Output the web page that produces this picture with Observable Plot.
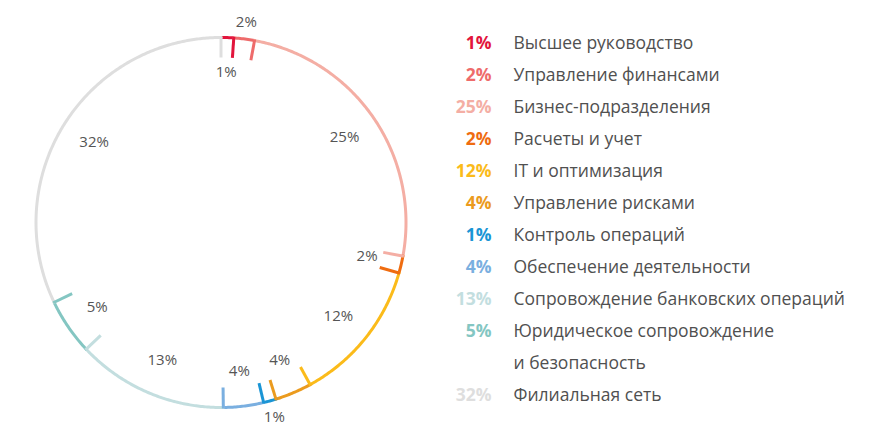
<!DOCTYPE html>
<html>
<head>
<meta charset="utf-8">
<script src="https://cdn.jsdelivr.net/npm/d3@7"></script>
<script src="https://cdn.jsdelivr.net/npm/@observablehq/plot@0.6"></script>
<style>
  html, body { margin: 0; padding: 0; background: #ffffff; }
  #chart { width: 874px; height: 427px; }
</style>
</head>
<body>
<div id="chart"></div>
<script>
// ---- Data ----
const categories = [
  "Высшее руководство",
  "Управление финансами",
  "Бизнес-подразделения",
  "Расчеты и учет",
  "IT и оптимизация",
  "Управление рисками",
  "Контроль операций",
  "Обеспечение деятельности",
  "Сопровождение банковских операций",
  "Юридическое сопровождение\nи безопасность",
  "Филиальная сеть"
];
// rounded percentages as printed
const percentLabels = [1, 2, 25, 2, 12, 4, 1, 4, 13, 5, 32];
// arc shares as measured from the ring (sum = 100)
const shares = [1.1, 1.8, 25.0, 1.5, 12.6, 3.2, 1.1, 3.5, 13.2, 4.9, 32.1];
const colors = [
  "#e2153c", "#ee6b6b", "#f4aea4", "#ef6c10", "#fbbb1a", "#eb9b1e",
  "#1a95d5", "#7aafe0", "#c3dedf", "#84c6c2", "#dedede"
];
// labels drawn outside the ring
const outsideLabels = ["Управление финансами", "Контроль операций"];

// ---- Layout ----
const W = 874, H = 427;
const cx = 220.5, cy = 222, R = 185, tickLen = 20;
const rIn = 150, rOut = 202;
const legendPctX = 491, legendTextX = 513, legendY0 = 43, legendStep = 32;

const total = d3.sum(shares);
const cum = [0];
shares.forEach((s, i) => cum.push(cum[i] + s));
const ang = f => (f / total) * 2 * Math.PI;
const pt = (a, r) => ({x: cx + r * Math.sin(a), y: cy - r * Math.cos(a)});

const arcPts = [];
const ticks = [];
const ringLabels = [];
categories.forEach((cat, i) => {
  const a0 = ang(cum[i]), a1 = ang(cum[i + 1]);
  const n = Math.max(2, Math.ceil((a1 - a0) / (Math.PI / 360)));
  for (let k = 0; k <= n; k++) {
    const p = pt(a0 + (a1 - a0) * k / n, R);
    arcPts.push({cat, x: p.x, y: p.y});
  }
  const o = pt(a1, R + 1), inn = pt(a1, R - tickLen);
  ticks.push({cat, x1: o.x, y1: o.y, x2: inn.x, y2: inn.y});
  const am = (a0 + a1) / 2;
  const lp = pt(am, outsideLabels.includes(cat) ? rOut : rIn);
  ringLabels.push({x: lp.x, y: lp.y, text: percentLabels[i] + "%"});
});

const legendPct = [];
const legendText = [];
let row = 0;
categories.forEach((cat, i) => {
  const lines = cat.split("\n");
  legendPct.push({cat, x: legendPctX, y: legendY0 + row * legendStep, text: percentLabels[i] + "%"});
  lines.forEach(line => {
    legendText.push({x: legendTextX, y: legendY0 + row * legendStep, text: line});
    row++;
  });
});

const chart = Plot.plot({
  width: W,
  height: H,
  margin: 0,
  x: {domain: [0, W], range: [0, W], axis: null},
  y: {domain: [0, H], range: [0, H], axis: null},
  color: {domain: categories, range: colors},
  style: {fontFamily: "'Open Sans', sans-serif", background: "#ffffff"},
  marks: [
    Plot.line(arcPts, {x: "x", y: "y", z: "cat", stroke: "cat", strokeWidth: 3, curve: "linear"}),
    Plot.link(ticks, {x1: "x1", y1: "y1", x2: "x2", y2: "y2", stroke: "cat", strokeWidth: 3}),
    Plot.text(ringLabels, {x: "x", y: "y", text: "text", fill: "#555555", fontSize: 15}),
    Plot.text(legendPct, {x: "x", y: "y", text: "text", fill: "cat", fontSize: 17.5, fontWeight: "bold", textAnchor: "end"}),
    Plot.text(legendText, {x: "x", y: "y", text: "text", fill: "#505050", fontSize: 17.5, textAnchor: "start"})
  ]
});
document.getElementById("chart").appendChild(chart);
</script>
</body>
</html>
